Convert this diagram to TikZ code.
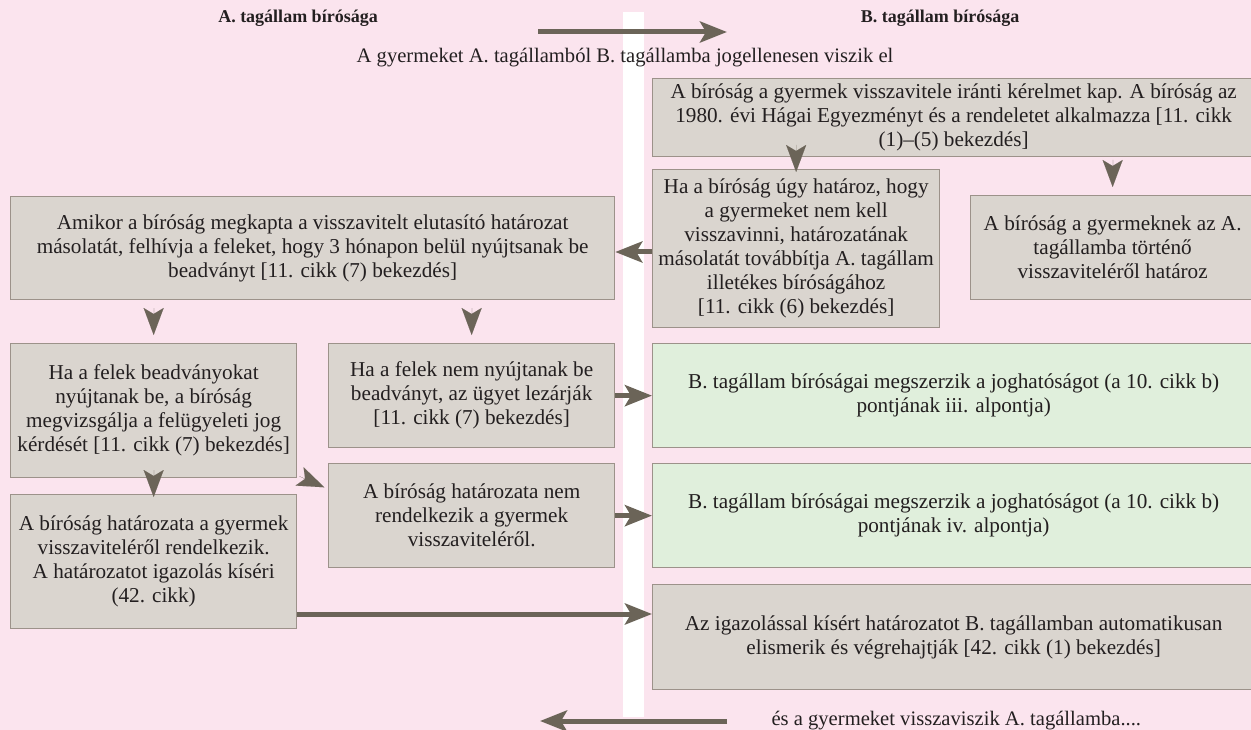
\documentclass[tikz,border=0pt]{standalone}
\usepackage{fontspec}
\setmainfont{Liberation Serif}
\usetikzlibrary{arrows.meta,calc}
\definecolor{bgpink}{RGB}{251,228,238}
\definecolor{boxfill}{RGB}{218,213,207}
\definecolor{boxline}{RGB}{156,146,138}
\definecolor{greenfill}{RGB}{224,239,220}
\definecolor{arrowc}{RGB}{107,100,88}
\definecolor{txt}{RGB}{35,31,32}
\begin{document}
\begin{tikzpicture}[x=1pt,y=-1pt, font=\fontsize{21.2}{24}\selectfont, text=txt,
 box/.style={draw=boxline, line width=1.3pt, fill=boxfill, anchor=north west, align=center, inner sep=0pt},
 gbox/.style={box, fill=greenfill},
 arr/.style={draw=arrowc, line width=5pt, -{Stealth[length=27pt,width=21pt,inset=6pt]}},
 head/.style={draw=arrowc, fill=arrowc, line width=0.01pt, -{Stealth[length=27pt,width=20pt,inset=6pt]}},
 title/.style={font=\bfseries\fontsize{18}{24}\selectfont, anchor=base}
]
\fill[bgpink] (0,0) rectangle (1251,730);
\useasboundingbox (0,0) rectangle (1251,730);
\fill[white] (622.5,12) rectangle (643.5,717);

\node[title] (tA) at (298,23) {A. tagállam bírósága};
\node[title] (tB) at (940,23) {B. tagállam bírósága};
\node[anchor=base, font=\fontsize{20.6}{24}\selectfont] (t1) at (625,63) {A gyermeket A. tagállamból B. tagállamba jogellenesen viszik el};
\node[anchor=base west, font=\fontsize{20.6}{24}\selectfont] (t2) at (768,725) {és a gyermeket visszaviszik A. tagállamba....};

\node[box, minimum width=602pt, minimum height=78pt] (b1) at (652,78) {A bíróság a gyermek visszavitele iránti kérelmet kap. A bíróság az\\ 1980. évi Hágai Egyezményt és a rendeletet alkalmazza [11. cikk\\ (1)–(5) bekezdés]};
\node[box, minimum width=287pt, minimum height=158pt] (b2) at (652,169) {Ha a bíróság úgy határoz, hogy\\ a gyermeket nem kell\\ visszavinni, határozatának\\ másolatát továbbítja A. tagállam\\ illetékes bíróságához\\ {[11. cikk (6) bekezdés]}};
\node[box, minimum width=284pt, minimum height=104pt] (b3) at (970,195) {A bíróság a gyermeknek az A.\\ tagállamba történő\\ visszaviteléről határoz};
\node[box, minimum width=604pt, minimum height=103pt] (b4) at (10,196) {Amikor a bíróság megkapta a visszavitelt elutasító határozat\\ másolatát, felhívja a feleket, hogy 3 hónapon belül nyújtsanak be\\ beadványt [11. cikk (7) bekezdés]};
\node[box, minimum width=286pt, minimum height=134pt] (b5) at (10,343) {Ha a felek beadványokat\\ nyújtanak be, a bíróság\\ megvizsgálja a felügyeleti jog\\ kérdését [11. cikk (7) bekezdés]};
\node[box, minimum width=286pt, minimum height=104pt] (b6) at (328,343) {Ha a felek nem nyújtanak be\\ beadványt, az ügyet lezárják\\ {[11. cikk (7) bekezdés]}};
\node[gbox, minimum width=602pt, minimum height=104pt] (g1) at (652,343) {B. tagállam bíróságai megszerzik a joghatóságot (a 10. cikk b)\\ pontjának iii. alpontja)};
\node[box, minimum width=286pt, minimum height=104pt] (b7) at (328,463) {A bíróság határozata nem\\ rendelkezik a gyermek\\ visszaviteléről.};
\node[gbox, minimum width=602pt, minimum height=104pt] (g2) at (652,463) {B. tagállam bíróságai megszerzik a joghatóságot (a 10. cikk b)\\ pontjának iv. alpontja)};
\node[box, minimum width=286pt, minimum height=134pt] (b8) at (10,494) {A bíróság határozata a gyermek\\ visszaviteléről rendelkezik.\\ A határozatot igazolás kíséri\\ (42. cikk)};
\node[box, minimum width=602pt, minimum height=105pt] (b9) at (652,584) {Az igazolással kísért határozatot B. tagállamban automatikusan\\ elismerik és végrehajtják [42. cikk (1) bekezdés]};

\coordinate (a1s) at (538,32);
\coordinate (a1e) at (727,32);
\coordinate (a2s) at (727,721);
\coordinate (a2e) at (540,721);
\draw[arr] (a1s) -- (a1e);
\draw[arr] (a2s) -- (a2e);

\draw[arr] (b2.west |- 0,252) -- (b4.east |- 0,252);
\draw[arr] (b6.east) -- (g1.west);
\draw[arr] (b7.east) -- (g2.west);
\draw[arr] (b8.east |- 0,614) -- (b9.west |- 0,614);

\draw[head] ($(b2.north)+(0,-24)$) -- ($(b2.north)+(0,3)$);
\draw[head] ($(b3.north)+(0,-35)$) -- ($(b3.north)+(0,-8)$);
\draw[head] ($(b5.north)+(0,-35)$) -- ($(b5.north)+(0,-8)$);
\draw[head] ($(b6.north)+(0,-35)$) -- ($(b6.north)+(0,-8)$);
\draw[head] ($(b8.north)+(0,-24)$) -- ($(b8.north)+(0,3)$);
\draw[head] ($(b5.south east)+(2,-2)$) -- ($(b5.south east)+(27,9)$);
\end{tikzpicture}
\end{document}
